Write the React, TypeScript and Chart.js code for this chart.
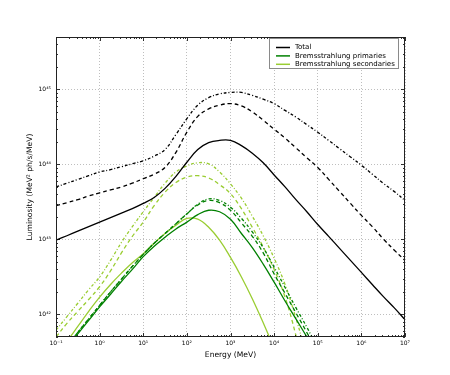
import React, { useEffect, useRef } from 'react';
import { Chart, registerables } from 'chart.js';

Chart.register(...registerables);

const FONT = '"DejaVu Sans", sans-serif';

// Energy grid (MeV)
const ENERGY_MEV = [
  0.1, 0.178, 0.316, 0.562, 1, 1.78, 3.16, 5.62, 10, 17.8, 31.6, 56.2, 100, 178, 316, 562,
  1000, 1780, 3160, 5620, 1e4, 1.78e4, 3.16e4, 5.62e4, 1e5, 1.78e5, 3.16e5, 5.62e5,
  1e6, 1.78e6, 3.16e6, 5.62e6, 1e7,
];

// Total (black)
const TOTAL_SOLID = [
  9.77e42, 1.12e43, 1.29e43, 1.48e43, 1.7e43, 1.95e43, 2.24e43, 2.57e43, 3.02e43, 3.63e43,
  4.79e43, 6.92e43, 1.07e44, 1.58e44, 1.95e44, 2.09e44, 2.09e44, 1.78e44, 1.41e44, 1.05e44,
  7.24e43, 5.01e43, 3.39e43, 2.34e43, 1.58e43, 1.1e43, 7.59e42, 5.25e42, 3.63e42, 2.51e42,
  1.74e42, 1.23e42, 8.51e41,
];
const TOTAL_DASHED = [
  2.82e43, 3.09e43, 3.39e43, 3.8e43, 4.17e43, 4.57e43, 5.01e43, 5.62e43, 6.46e43, 7.41e43,
  9.12e43, 1.45e44, 2.69e44, 4.37e44, 5.5e44, 6.17e44, 6.46e44, 6.03e44, 5.01e44, 3.89e44,
  2.95e44, 2.24e44, 1.66e44, 1.23e44, 9.12e43, 6.31e43, 4.37e43, 3.02e43, 2.09e43, 1.48e43,
  1.02e43, 7.24e42, 5.25e42,
];
const TOTAL_DASHDOT = [
  5.01e43, 5.62e43, 6.31e43, 7.08e43, 7.94e43, 8.51e43, 9.33e43, 1.02e44, 1.12e44, 1.29e44,
  1.58e44, 2.51e44, 4.07e44, 6.17e44, 7.76e44, 8.71e44, 9.12e44, 9.12e44, 8.32e44, 7.41e44,
  6.46e44, 5.25e44, 4.27e44, 3.39e44, 2.69e44, 2.09e44, 1.62e44, 1.26e44, 9.77e43, 7.41e43,
  5.62e43, 4.37e43, 3.31e43,
];

// Bremsstrahlung primaries (green)
const PRIM_SOLID = [
  2.34e41, 3.63e41, 5.5e41, 8.32e41, 1.26e42, 1.86e42, 2.75e42, 3.98e42, 5.89e42, 8.13e42,
  1.07e43, 1.38e43, 1.7e43, 2.14e43, 2.45e43, 2.34e43, 1.86e43, 1.2e43, 7.76e42, 4.68e42,
  2.69e42, 1.51e42, 8.71e41, 5.01e41, 2.82e41,
];
const PRIM_DASHED = [
  2.4e41, 3.72e41, 5.75e41, 8.71e41, 1.32e42, 2.0e42, 2.95e42, 4.37e42, 6.31e42, 8.91e42,
  1.2e43, 1.62e43, 2.19e43, 2.88e43, 3.31e43, 3.09e43, 2.45e43, 1.66e43, 1.1e43, 6.61e42,
  3.47e42, 1.91e42, 1.05e42, 5.75e41, 3.02e41,
];
const PRIM_DASHDOT = [
  2.4e41, 3.72e41, 5.75e41, 8.71e41, 1.32e42, 2.0e42, 2.95e42, 4.37e42, 6.31e42, 8.91e42,
  1.2e43, 1.62e43, 2.19e43, 2.95e43, 3.47e43, 3.31e43, 2.69e43, 1.91e43, 1.26e43, 7.76e42,
  4.27e42, 2.29e42, 1.23e42, 6.76e41, 3.55e41,
];

// Bremsstrahlung secondaries (yellowgreen)
const SEC_SOLID = [
  2.82e41, 4.37e41, 6.92e41, 1.1e42, 1.7e42, 2.51e42, 3.55e42, 4.9e42, 6.46e42, 8.91e42,
  1.2e43, 1.55e43, 1.91e43, 1.86e43, 1.45e43, 9.77e42, 5.75e42, 3.16e42, 1.62e42, 7.76e41,
  3.55e41,
];
const SEC_DASHED = [
  5.01e41, 7.59e41, 1.1e42, 1.58e42, 2.34e42, 3.8e42, 6.61e42, 1.1e43, 1.7e43, 2.82e43,
  4.27e43, 5.75e43, 6.76e43, 7.08e43, 6.61e43, 5.37e43, 4.07e43, 2.57e43, 1.45e43, 7.94e42,
  3.98e42, 1.7e42, 5.25e41, 1.26e41,
];
const SEC_DASHDOT = [
  6.17e41, 9.33e41, 1.41e42, 2.14e42, 3.16e42, 5.25e42, 9.12e42, 1.48e43, 2.34e43, 3.63e43,
  5.62e43, 7.94e43, 9.55e43, 1.05e44, 1.02e44, 7.94e43, 5.5e43, 3.55e43, 2.04e43, 1.12e43,
  5.62e42, 2.51e42, 8.91e41, 2.82e41,
];

const X_TICKS = [0.1, 1, 10, 100, 1e3, 1e4, 1e5, 1e6, 1e7];
const X_TICK_LABELS = ['10⁻¹', '10⁰', '10¹', '10²', '10³', '10⁴', '10⁵', '10⁶', '10⁷'];
const Y_TICKS = [1e42, 1e43, 1e44, 1e45];
const Y_TICK_LABELS = ['10⁴²', '10⁴³', '10⁴⁴', '10⁴⁵'];
const X_MIN = 0.1;
const X_MAX = 1e7;
const Y_MIN = 5e41;
const Y_MAX = 5e45;

const BLACK = '#000000';
const GREEN = '#008000';
const YELLOWGREEN = '#9acd32';

const LEGEND_LABELS = ['Total', 'Bremsstrahlung primaries', 'Bremsstrahlung secondaries'];
const LEGEND_COLORS = [BLACK, GREEN, YELLOWGREEN];

const DASHED = [4, 3];
const DASHDOT = [3, 2, 1, 2];

const SERIES = [
  { values: TOTAL_SOLID, color: BLACK, dash: [] as number[] },
  { values: TOTAL_DASHED, color: BLACK, dash: DASHED },
  { values: TOTAL_DASHDOT, color: BLACK, dash: DASHDOT },
  { values: PRIM_SOLID, color: GREEN, dash: [] as number[] },
  { values: PRIM_DASHED, color: GREEN, dash: DASHED },
  { values: PRIM_DASHDOT, color: GREEN, dash: DASHDOT },
  { values: SEC_SOLID, color: YELLOWGREEN, dash: [] as number[] },
  { values: SEC_DASHED, color: YELLOWGREEN, dash: DASHED },
  { values: SEC_DASHDOT, color: YELLOWGREEN, dash: DASHDOT },
];

const frameAndTicksPlugin = {
  id: 'frameAndTicks',
  afterDatasetsDraw(chart: any) {
    const { ctx, chartArea, scales } = chart;
    const { left, right, top, bottom } = chartArea;
    ctx.save();
    ctx.strokeStyle = '#000';
    ctx.lineWidth = 0.8;
    const drawTicks = (scale: any, horizontal: boolean) => {
      const lo = Math.floor(Math.log10(scale.min));
      const hi = Math.ceil(Math.log10(scale.max));
      for (let d = lo; d <= hi; d++) {
        for (let k = 1; k < 10; k++) {
          const v = k * Math.pow(10, d);
          if (v < scale.min * 0.999 || v > scale.max * 1.001) continue;
          const p = Math.round(scale.getPixelForValue(v)) + 0.5;
          const len = k === 1 ? 4 : 2;
          ctx.beginPath();
          if (horizontal) {
            ctx.moveTo(p, bottom);
            ctx.lineTo(p, bottom - len);
            ctx.moveTo(p, top);
            ctx.lineTo(p, top + len);
          } else {
            ctx.moveTo(left, p);
            ctx.lineTo(left + len, p);
            ctx.moveTo(right, p);
            ctx.lineTo(right - len, p);
          }
          ctx.stroke();
        }
      }
    };
    drawTicks(scales.x, true);
    drawTicks(scales.y, false);
    ctx.lineWidth = 1;
    ctx.strokeStyle = '#222';
    ctx.strokeRect(left + 0.5, top + 0.5, right - left - 1, bottom - top - 1);
    ctx.restore();
  },
};

const legendPlugin = {
  id: 'mplLegend',
  afterDraw(chart: any) {
    const { ctx, chartArea } = chart;
    ctx.save();
    ctx.font = `7px ${FONT}`;
    const textW = Math.max(...LEGEND_LABELS.map((t) => ctx.measureText(t).width));
    const boxW = Math.round(26 + textW + 3);
    const boxH = 30;
    const right = chartArea.right - 7;
    const left = right - boxW;
    const top = chartArea.top + 1;
    ctx.fillStyle = '#ffffff';
    ctx.fillRect(left, top, boxW, boxH);
    ctx.strokeStyle = '#8a8a8a';
    ctx.lineWidth = 1;
    ctx.strokeRect(left + 0.5, top + 0.5, boxW, boxH);
    LEGEND_LABELS.forEach((label, i) => {
      const y = top + 9.5 + i * 8.4;
      ctx.strokeStyle = LEGEND_COLORS[i];
      ctx.lineWidth = 1.5;
      ctx.beginPath();
      ctx.moveTo(left + 7, y);
      ctx.lineTo(left + 21, y);
      ctx.stroke();
      ctx.fillStyle = '#000';
      ctx.textBaseline = 'middle';
      ctx.textAlign = 'left';
      ctx.fillText(label, left + 26, y);
    });
    ctx.restore();
  },
};

export default function App() {
  const canvasRef = useRef<HTMLCanvasElement | null>(null);

  useEffect(() => {
    if (!canvasRef.current) return;
    const datasets = SERIES.map((s) => ({
      label: '',
      data: s.values.map((v, i) => ({ x: ENERGY_MEV[i], y: v })),
      borderColor: s.color,
      backgroundColor: s.color,
      borderWidth: 1.3,
      borderDash: s.dash,
      pointRadius: 0,
      pointHoverRadius: 0,
      fill: false,
      tension: 0.4,
    }));

    const gridColor = 'rgba(0,0,0,0.32)';

    const chart = new Chart(canvasRef.current, {
      type: 'line',
      data: { datasets },
      options: {
        animation: false,
        responsive: false,
        devicePixelRatio: 1,
        layout: { padding: { top: 37, right: 45, left: 0, bottom: 0 } },
        plugins: {
          legend: { display: false },
          tooltip: { enabled: false },
        },
        scales: {
          x: {
            type: 'logarithmic',
            min: X_MIN,
            max: X_MAX,
            afterBuildTicks: (scale: any) => {
              scale.ticks = X_TICKS.map((v) => ({ value: v }));
            },
            afterFit: (scale: any) => {
              scale.height = 38;
            },
            ticks: {
              autoSkip: false,
              maxRotation: 0,
              padding: 3,
              color: '#000',
              font: { family: FONT, size: 6 },
              callback: (_v: any, i: number) => X_TICK_LABELS[i],
            },
            grid: { drawTicks: false, color: gridColor, lineWidth: 0.8 },
            border: { display: false, dash: [1, 2] },
            title: {
              display: true,
              text: 'Energy (MeV)',
              color: '#000',
              font: { family: FONT, size: 7.6 },
              padding: { top: 0, bottom: 15 },
            },
          },
          y: {
            type: 'logarithmic',
            min: Y_MIN,
            max: Y_MAX,
            afterBuildTicks: (scale: any) => {
              scale.ticks = Y_TICKS.map((v) => ({ value: v }));
            },
            afterFit: (scale: any) => {
              scale.width = 56;
            },
            ticks: {
              autoSkip: false,
              padding: 5,
              color: '#000',
              font: { family: FONT, size: 6 },
              callback: (_v: any, i: number) => Y_TICK_LABELS[i],
            },
            grid: { drawTicks: false, color: gridColor, lineWidth: 0.8 },
            border: { display: false, dash: [1, 2] },
            title: {
              display: true,
              text: 'Luminosity (MeV² ph/s/MeV)',
              color: '#000',
              font: { family: FONT, size: 7.6 },
              padding: { top: 25, bottom: 0 },
            },
          },
        },
      },
      plugins: [frameAndTicksPlugin, legendPlugin],
    });
    return () => chart.destroy();
  }, []);

  return (
    <canvas
      ref={canvasRef}
      width={450}
      height={375}
      style={{ position: 'absolute', left: 0, top: 0, width: 450, height: 375, display: 'block' }}
    />
  );
}
